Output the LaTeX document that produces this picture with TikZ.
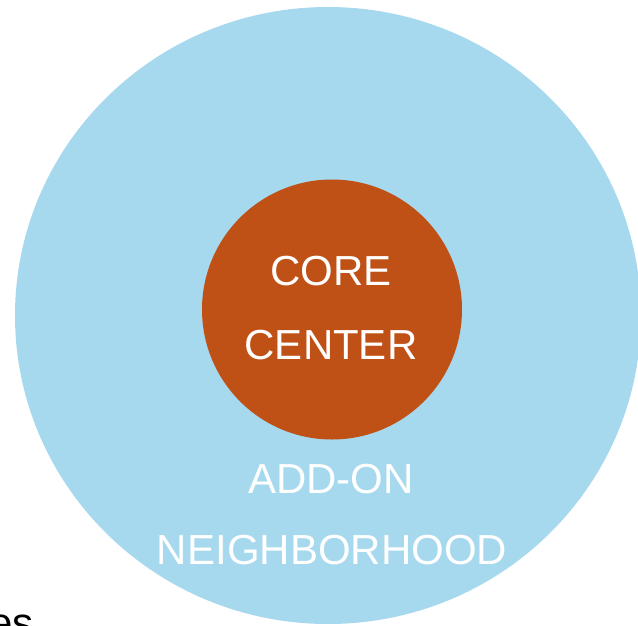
\documentclass[tikz,border=0pt]{standalone}
\usepackage{fontspec}
\setmainfont{Liberation Sans}
\definecolor{addon}{RGB}{166,216,238}
\definecolor{core}{RGB}{192,81,22}
\begin{document}
\begin{tikzpicture}[x=1pt,y=-1pt,
  label text/.style={text=white,font=\fontsize{42}{42}\selectfont,anchor=base,inner sep=0pt},
  side text/.style={text=black,font=\fontsize{42}{42}\selectfont,anchor=base east,inner sep=0pt}]
  \useasboundingbox (0,0) rectangle (638,625);
  \clip (0,0) rectangle (638,625);
  % outer ring and inner disc
  \fill[addon] (328,315.5) ellipse [x radius=313pt, y radius=308.5pt];
  \fill[core] (332,309.5) circle [radius=130pt];
  % labels
  \node[label text] (core1) at (331,285) {CORE};
  \node[label text] (core2) at (331,359) {CENTER};
  \node[label text] (add1) at (331,493) {ADD-ON};
  \node[label text] (add2) at (332,564) {NEIGHBORHOOD};
  % trailing word from the neighbouring text block
  \node[side text] (side) at (34,637) {es};
\end{tikzpicture}
\end{document}
